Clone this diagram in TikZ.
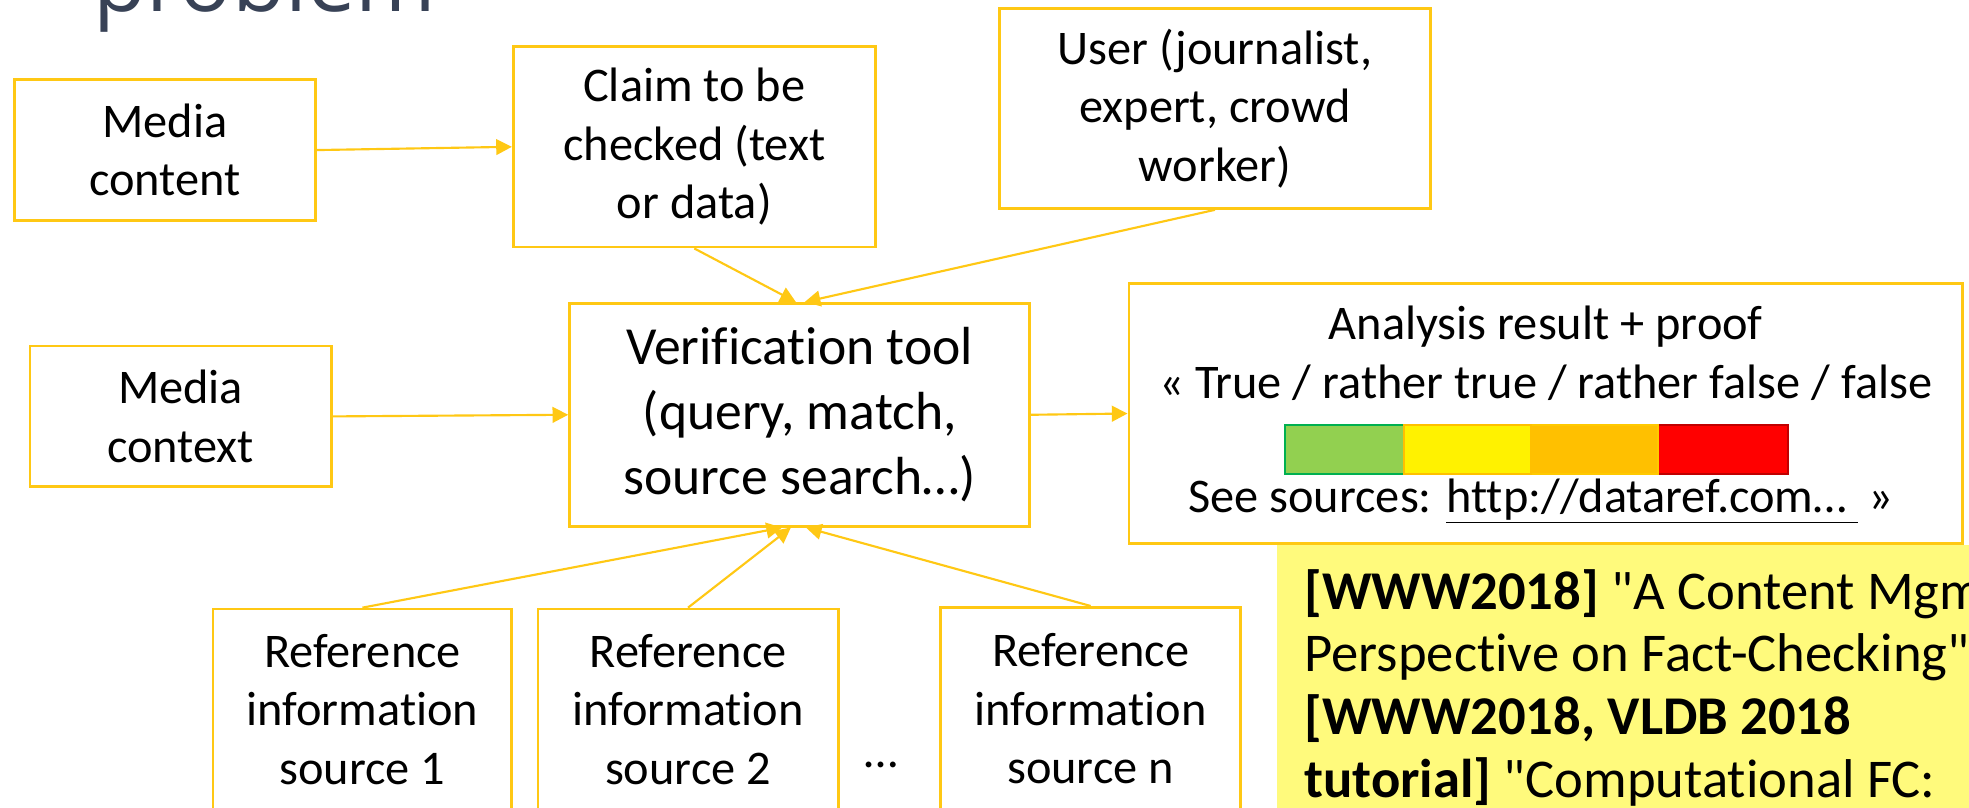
\documentclass[tikz,border=0pt]{standalone}
\usepackage{fontspec}
\setmainfont{Carlito}[Ligatures={TeXOff,NoCommon}]
\newfontfamily\headfont{Open Sans}
\usetikzlibrary{arrows.meta}

\definecolor{gold}{RGB}{255,200,20}
\definecolor{headcol}{RGB}{56,66,86}
\definecolor{notefill}{RGB}{255,250,124}
\definecolor{okgreen}{RGB}{146,208,80}
\definecolor{okgreenline}{RGB}{0,176,80}
\definecolor{midorange}{RGB}{255,192,0}
\definecolor{darkred}{RGB}{192,0,0}

\tikzset{
  box/.style={draw=gold, line width=2.2pt, fill=white, inner sep=0pt,
    align=center, font=\fontsize{38.5}{46.5}\selectfont},
  conn/.style={draw=gold, line width=1.7pt,
    -{Triangle[length=12.5pt,width=12.5pt]}},
  txt/.style={inner sep=0pt, font=\fontsize{38.5}{46.5}\selectfont},
  notetxt/.style={inner sep=0pt, anchor=base west,
    font=\fontsize{43.5}{50}\selectfont},
  seg/.style={line width=1.6pt}
}

\begin{document}
\begin{tikzpicture}[x=1pt,y=-1pt]
\clip (0,0) rectangle (1568,643);
\fill[white] (0,0) rectangle (1568,643);

% heading, mostly above the top edge
\node[anchor=base west, inner sep=0pt, text=headcol,
  font=\headfont\fontsize{69}{80}\selectfont] (head) at (74,9.5) {problem};

% input boxes
\node[box, minimum width=239.3pt, minimum height=112pt] (mc) at (131.4,119.5) {Media\\content};
\node[box, minimum width=288.3pt, minimum height=159.7pt] (claim) at (552.9,116.9) {Claim to be\\checked (text\\or data)};
\node[box, minimum width=343pt, minimum height=159pt] (user) at (967.5,86.5) {User (journalist,\\expert, crowd\\worker)};
\node[box, minimum width=240pt, minimum height=112.1pt] (ctx) at (143.8,331.6) {Media\\context};

% central tool
\node[box, minimum width=366.4pt, minimum height=177.4pt,
  font=\fontsize{42.7}{52}\selectfont] (ver) at (636.8,330.3)
  {Verification tool\\(query, match,\\source search…)};

% reference sources
\node[box, minimum width=238pt, minimum height=160pt] (ref1) at (288.6,565) {Reference\\information\\source 1};
\node[box, minimum width=239.1pt, minimum height=160pt] (ref2) at (547.9,565) {Reference\\information\\source 2};
\node[box, minimum width=239pt, minimum height=161.3pt] (refn) at (868.5,564.3) {Reference\\information\\source n};
\node[txt, anchor=base] (dots) at (702,611) {…};

% result box
\node[box, minimum width=664pt, minimum height=206.6pt] (ana) at (1231,329.3) {};
\node[txt, anchor=base] (ana1) at (1231,270) {Analysis result + proof};
\node[txt, anchor=base] (ana2) at (1231,317.4) {« True / rather true / rather false / false};
\node[txt, anchor=base] (ana3) at (1227,408) {See sources: \underline{http://dataref.com…\ }\ »};

% verdict scale
\draw[seg, fill=okgreen, draw=okgreenline] (1023,338.5) rectangle (1117.8,377.5);
\draw[seg, fill=red, draw=darkred] (1320.7,338.5) rectangle (1424,377.5);
\draw[seg, fill=midorange, draw=midorange!85!yellow] (1218.8,338.5) rectangle (1320.7,377.5);
\draw[seg, fill=yellow, draw=midorange] (1117.8,338.5) rectangle (1218.8,377.5);

% connectors
\draw[conn] (mc.east) -- (claim.west);
\draw[conn] (claim.south) -- ([xshift=-3pt]ver.north);
\draw[conn] (user.south) -- ([xshift=4pt]ver.north);
\draw[conn] (ctx.east) -- (ver.west);
\draw[conn] (ver.east) -- (ana.west);
\draw[conn] (ref1.north) -- ([xshift=-14pt]ver.south);
\draw[conn] (ref2.north) -- ([xshift=-7pt]ver.south);
\draw[conn] (refn.north) -- ([xshift=5pt]ver.south);

% citation note
\node[fill=notefill, inner sep=0pt, minimum width=560pt, minimum height=230pt,
  anchor=north west] (note) at (1016.5,433.6) {};
\node[notetxt] (note1) at (1038.5,485) {\textbf{[WWW2018]} "A Content Mgm};
\node[notetxt] (note2) at (1038.5,535) {Perspective on Fact-Checking"};
\node[notetxt] (note3) at (1038.5,585) {\textbf{[WWW2018, VLDB 2018}};
\node[notetxt] (note4) at (1038.5,635) {\textbf{tutorial]} "Computational FC:};
\end{tikzpicture}
\end{document}
